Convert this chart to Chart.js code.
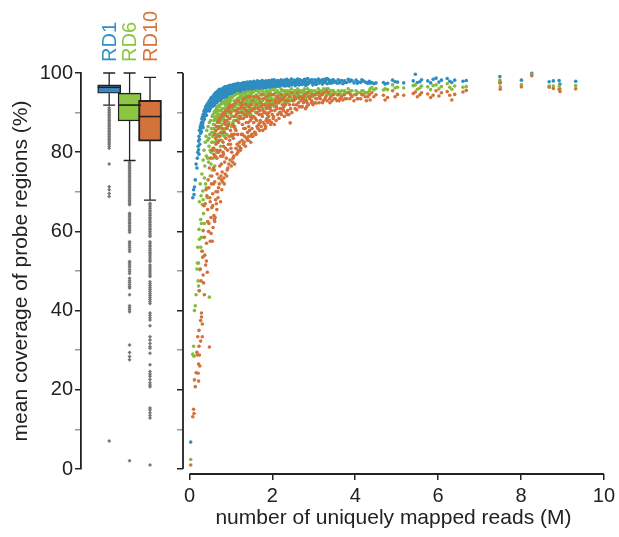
<!DOCTYPE html>
<html>
<head>
<meta charset="utf-8">
<script src="https://cdn.jsdelivr.net/npm/chart.js@4.4.1/dist/chart.umd.min.js"></script>
<style>
  html, body { margin: 0; padding: 0; background: #fff; }
  #wrap { position: relative; width: 619px; height: 537px; }
  #wrap canvas { position: absolute; left: 0; top: 0; }
</style>
</head>
<body>
<div id="wrap">
  <canvas id="scatter" width="619" height="537"></canvas>
  <canvas id="boxes" width="619" height="537"></canvas>
</div>
<script>
// ---- per-sample data: uniquely mapped reads (millions) and mean coverage (%) at each read-depth threshold ----
// rows line up across the four arrays (one entry per sample)
const readsM = [
  0.03, 0.08, 0.10, 0.11, 0.12, 0.14, 0.16, 0.18, 0.19, 0.20,
  0.21, 0.22, 0.22, 0.23, 0.24, 0.24, 0.25, 0.26, 0.27, 0.28,
  0.29, 0.29, 0.30, 0.31, 0.31, 0.32, 0.33, 0.34, 0.35, 0.36,
  0.37, 0.38, 0.39, 0.40, 0.41, 0.42, 0.43, 0.44, 0.45, 0.46,
  0.47, 0.48, 0.48, 0.49, 0.50, 0.51, 0.52, 0.53, 0.54, 0.55,
  0.23, 0.27, 0.33, 0.36, 0.41, 0.44, 0.47, 0.50, 0.52, 0.54,
  0.56, 0.57, 0.57, 0.58, 0.59, 0.60, 0.60, 0.61, 0.62, 0.63,
  0.63, 0.64, 0.65, 0.66, 0.66, 0.67, 0.68, 0.69, 0.70, 0.70,
  0.71, 0.72, 0.72, 0.73, 0.74, 0.75, 0.75, 0.76, 0.77, 0.78,
  0.79, 0.80, 0.80, 0.81, 0.82, 0.83, 0.83, 0.84, 0.85, 0.86,
  0.86, 0.87, 0.88, 0.89, 0.89, 0.90, 0.91, 0.92, 0.93, 0.93,
  0.94, 0.95, 0.96, 0.96, 0.97, 0.98, 0.99, 1.00, 1.00, 1.01,
  0.58, 0.62, 0.65, 0.69, 0.73, 0.77, 0.81, 0.85, 0.90, 0.97,
  0.55, 0.59, 0.64, 0.68, 0.71, 0.74, 0.79, 0.84, 0.88, 0.95,
  0.56, 0.61, 0.66, 0.70, 0.76, 0.82, 0.87, 0.92, 0.98, 1.02,
  0.60, 0.63, 0.67, 0.72, 0.78, 0.80, 0.86, 0.91, 0.94, 0.99,
  1.02, 1.03, 1.04, 1.05, 1.06, 1.06, 1.07, 1.08, 1.09, 1.10,
  1.11, 1.12, 1.13, 1.14, 1.15, 1.16, 1.17, 1.18, 1.19, 1.20,
  1.21, 1.22, 1.23, 1.24, 1.25, 1.26, 1.27, 1.28, 1.29, 1.30,
  1.31, 1.32, 1.33, 1.34, 1.35, 1.36, 1.37, 1.38, 1.39, 1.40,
  1.41, 1.42, 1.43, 1.44, 1.45, 1.46, 1.47, 1.48, 1.49, 1.50,
  1.03, 1.08, 1.13, 1.18, 1.23, 1.28, 1.33, 1.38, 1.43, 1.48,
  1.05, 1.10, 1.15, 1.20, 1.25, 1.30, 1.35, 1.40, 1.45, 1.50,
  1.07, 1.12, 1.17, 1.22, 1.27, 1.32, 1.37, 1.42, 1.47, 1.49,
  1.51, 1.52, 1.53, 1.54, 1.55, 1.56, 1.57, 1.58, 1.59, 1.60,
  1.61, 1.62, 1.63, 1.64, 1.65, 1.66, 1.67, 1.68, 1.69, 1.70,
  1.71, 1.72, 1.73, 1.74, 1.75, 1.76, 1.77, 1.78, 1.79, 1.80,
  1.81, 1.82, 1.83, 1.84, 1.85, 1.86, 1.87, 1.88, 1.89, 1.90,
  1.91, 1.92, 1.93, 1.94, 1.95, 1.96, 1.97, 1.98, 1.99, 2.00,
  1.53, 1.58, 1.63, 1.68, 1.73, 1.78, 1.83, 1.88, 1.93, 1.98,
  1.55, 1.62, 1.70, 1.77, 1.85, 1.92,
  2.01, 2.03, 2.04, 2.06, 2.07, 2.09, 2.10, 2.12, 2.13, 2.15,
  2.16, 2.18, 2.19, 2.21, 2.22, 2.24, 2.26, 2.27, 2.29, 2.30,
  2.32, 2.33, 2.35, 2.37, 2.38, 2.40, 2.41, 2.43, 2.44, 2.46,
  2.47, 2.49, 2.02, 2.08, 2.14, 2.20, 2.25, 2.31, 2.36, 2.42,
  2.05, 2.11, 2.17, 2.23, 2.28,
  2.51, 2.53, 2.55, 2.57, 2.59, 2.61, 2.63, 2.65, 2.67, 2.69,
  2.71, 2.73, 2.75, 2.78, 2.80, 2.82, 2.85, 2.87, 2.90, 2.92,
  2.94, 2.96, 2.98, 2.52, 2.58, 2.64, 2.72, 2.77, 2.84, 2.89,
  2.55, 2.66, 2.76, 2.83, 2.95,
  3.01, 3.03, 3.06, 3.08, 3.11, 3.13, 3.16, 3.19, 3.21, 3.24,
  3.27, 3.29, 3.32, 3.35, 3.38, 3.41, 3.44, 3.47, 3.49, 3.05,
  3.14, 3.23, 3.31, 3.39, 3.46,
  3.52, 3.56, 3.59, 3.63, 3.67, 3.70, 3.74, 3.79, 3.83, 3.87,
  3.92, 3.97, 4.02, 4.07, 4.13, 4.19, 4.24, 4.30, 4.34, 3.61,
  3.75, 3.89, 4.05, 4.16, 4.27,
  4.36, 4.40, 4.45, 4.50, 4.68, 4.72, 4.78, 4.90, 4.96, 5.02,
  5.17, 5.40, 5.45, 5.50, 5.56, 5.60, 5.75, 5.82, 5.88, 5.95,
  6.02, 6.08, 6.22, 6.28, 6.33, 6.40, 6.60, 6.68, 7.49, 7.50,
  8.01, 8.26, 8.68, 8.78, 8.92, 8.94, 9.32
];
const covRD1 = [
  6.8, 68.5, 70.5, 69.3, 71.2, 73.0, 77.0, 76.0, 78.5, 80.0,
  81.5, 82.8, 80.6, 84.0, 83.2, 85.5, 82.0, 86.4, 84.8, 87.0,
  85.2, 87.5, 88.4, 86.8, 88.9, 87.3, 89.5, 88.0, 90.3, 89.0,
  90.8, 89.6, 91.5, 90.2, 91.2, 92.0, 90.6, 91.8, 92.5, 91.0,
  92.3, 90.4, 93.0, 92.7, 91.6, 93.4, 92.1, 93.8, 92.9, 93.5,
  79.5, 86.0, 86.2, 88.4, 89.3, 90.5, 91.3, 90.9, 91.9, 92.4,
  92.8, 94.1, 91.7, 93.5, 92.2, 94.6, 93.3, 91.9, 94.0, 92.7,
  94.8, 93.1, 95.1, 92.5, 94.3, 93.8, 95.4, 92.9, 94.5, 93.6,
  95.6, 93.4, 94.9, 94.2, 95.8, 93.0, 94.6, 95.2, 93.9, 95.9,
  94.4, 96.1, 93.7, 95.3, 94.8, 96.3, 94.0, 95.6, 94.5, 96.0,
  94.2, 95.1, 96.4, 94.7, 95.7, 93.9, 96.2, 95.0, 94.4, 96.6,
  95.3, 94.6, 96.0, 95.5, 96.8, 94.9, 95.8, 96.5, 95.2, 94.7,
  93.9, 93.2, 94.0, 95.0, 95.5, 95.3, 95.9, 96.4, 96.6, 96.2,
  91.5, 94.3, 94.5, 93.5, 94.1, 94.9, 95.7, 93.8, 95.3, 96.1,
  93.0, 93.7, 95.0, 95.2, 94.3, 95.1, 95.9, 96.3, 96.9, 96.1,
  92.0, 95.0, 94.8, 95.9, 93.6, 95.0, 96.5, 94.3, 96.7, 95.6,
  95.4, 96.9, 94.8, 96.3, 95.7, 97.1, 95.1, 96.6, 94.6, 96.0,
  97.2, 95.5, 96.4, 95.0, 96.8, 95.9, 97.4, 95.3, 96.2, 96.9,
  95.6, 96.5, 97.3, 95.2, 96.0, 97.0, 95.8, 96.7, 97.5, 95.5,
  96.3, 97.6, 95.9, 96.9, 95.4, 97.3, 96.5, 95.7, 97.7, 96.1,
  97.0, 95.8, 96.6, 97.4, 96.0, 97.8, 96.4, 95.6, 97.1, 96.8,
  96.0, 95.2, 97.0, 96.6, 95.9, 96.1, 97.2, 96.9, 95.9, 97.5,
  94.9, 96.7, 95.6, 95.4, 97.2, 96.5, 96.2, 95.5, 97.2, 96.0,
  96.2, 96.0, 95.1, 97.0, 97.1, 95.7, 97.0, 96.4, 97.0, 95.9,
  96.3, 97.7, 95.9, 97.0, 96.6, 97.9, 96.1, 97.3, 96.8, 95.8,
  97.5, 96.5, 97.1, 98.0, 96.2, 97.4, 96.7, 97.8, 96.0, 97.2,
  96.6, 97.7, 96.3, 97.1, 98.1, 96.9, 97.5, 96.4, 97.9, 97.0,
  96.5, 97.6, 97.2, 96.2, 98.0, 97.3, 96.7, 97.8, 96.4, 97.5,
  96.9, 98.1, 96.6, 97.4, 97.9, 96.3, 97.6, 97.1, 98.2, 96.8,
  97.2, 96.0, 96.4, 97.0, 97.6, 97.2, 96.5, 97.0, 97.7, 96.5,
  96.9, 97.3, 96.8, 96.1, 96.6, 97.3,
  97.6, 96.8, 98.3, 97.2, 97.9, 96.5, 97.5, 98.1, 96.9, 97.7,
  96.6, 97.8, 97.3, 98.3, 96.9, 97.6, 98.0, 97.1, 96.7, 98.2,
  97.4, 96.8, 98.4, 97.0, 97.8, 96.7, 98.1, 97.5, 97.2, 98.5,
  97.0, 97.7, 97.0, 97.6, 98.0, 96.9, 97.5, 97.9, 96.9, 97.3,
  96.4, 97.3, 97.0, 97.9, 97.4,
  97.4, 98.2, 96.8, 97.9, 97.1, 98.5, 97.6, 97.0, 98.3, 97.7,
  97.2, 98.0, 97.5, 98.4, 96.9, 97.8, 98.6, 97.3, 97.9, 98.2,
  97.6, 98.3, 97.0, 97.9, 97.3, 98.1, 97.1, 97.7, 97.4, 98.0,
  98.0, 97.4, 98.2, 97.0, 97.8,
  97.5, 98.3, 97.1, 98.0, 98.5, 97.4, 97.9, 98.2, 97.2, 98.4,
  97.7, 98.1, 97.3, 98.4, 97.8, 98.0, 97.5, 98.2, 97.7, 97.8,
  98.0, 97.6, 98.6, 97.4, 98.3,
  97.9, 97.4, 98.3, 97.7, 98.1, 97.3, 98.0, 97.6, 98.4, 97.8,
  98.1, 97.5, 98.2, 97.8, 97.6, 98.0, 97.7, 97.4, 97.9, 97.5,
  97.6, 98.2, 97.4, 98.3, 97.6,
  97.4, 97.6, 97.3, 97.5, 97.6, 97.2, 97.4, 98.2, 97.8, 97.7,
  97.5, 98.0, 99.7, 97.6, 97.8, 98.3, 98.0, 97.5, 98.4, 98.7,
  97.7, 98.2, 98.6, 97.9, 97.6, 98.2, 97.9, 98.1, 99.1, 97.6,
  98.2, 99.9, 97.8, 98.0, 98.1, 97.2, 97.9
];
const covRD6 = [
  2.4, 29.0, 31.0, 28.5, 40.0, 41.2, 44.0, 50.5, 52.0, 56.0,
  47.5, 52.0, 46.2, 60.5, 58.0, 67.5, 50.3, 72.0, 63.0, 69.0,
  58.5, 62.0, 74.5, 55.0, 66.8, 70.2, 78.0, 64.5, 80.5, 62.0,
  76.5, 82.5, 72.0, 84.0, 79.0, 85.5, 68.5, 83.0, 86.5, 77.5,
  81.5, 43.4, 87.5, 84.5, 74.0, 88.0, 80.0, 86.0, 82.5, 89.0,
  45.0, 56.0, 68.0, 73.5, 71.0, 78.5, 83.5, 80.5, 77.0, 85.0,
  84.0, 89.5, 78.5, 86.0, 81.0, 90.2, 87.0, 76.5, 88.5, 82.5,
  90.5, 85.5, 91.0, 80.0, 88.0, 86.5, 91.5, 82.5, 89.0, 84.5,
  91.8, 84.0, 89.5, 87.5, 92.0, 81.5, 88.5, 90.5, 85.0, 92.3,
  87.0, 92.5, 84.5, 90.0, 88.5, 92.8, 85.5, 91.0, 87.5, 92.0,
  86.0, 89.5, 93.0, 88.0, 91.5, 84.5, 92.5, 89.0, 87.0, 93.2,
  90.0, 87.5, 92.5, 91.0, 93.5, 88.5, 91.5, 93.0, 89.5, 86.5,
  87.0, 79.0, 83.0, 89.5, 90.5, 88.0, 89.5, 92.5, 93.0, 90.5,
  75.5, 88.0, 89.0, 84.5, 86.0, 89.5, 91.0, 84.0, 90.0, 92.0,
  82.5, 85.0, 90.0, 90.5, 86.5, 89.0, 92.0, 92.5, 94.0, 91.0,
  80.5, 90.0, 88.5, 91.5, 83.0, 88.5, 93.0, 86.0, 93.0, 90.0,
  89.0, 93.8, 87.0, 92.0, 90.5, 94.2, 88.0, 93.0, 86.5, 91.5,
  94.5, 89.0, 92.5, 88.0, 93.5, 91.0, 94.8, 88.5, 92.0, 93.8,
  90.0, 92.5, 94.5, 88.5, 91.0, 93.5, 90.5, 92.0, 95.0, 89.5,
  92.0, 95.0, 91.0, 93.5, 89.0, 94.5, 92.5, 90.5, 95.2, 91.5,
  93.5, 90.0, 92.0, 94.5, 91.0, 95.3, 92.5, 89.5, 94.0, 93.0,
  91.0, 90.5, 93.0, 93.0, 89.0, 91.5, 94.0, 93.0, 90.5, 94.5,
  87.5, 93.0, 90.0, 89.0, 94.0, 92.5, 92.0, 89.5, 93.5, 91.0,
  91.5, 92.0, 88.0, 93.5, 94.5, 90.0, 93.5, 92.5, 93.0, 90.5,
  92.0, 95.0, 90.5, 93.5, 92.5, 95.4, 91.0, 94.0, 93.0, 90.0,
  94.5, 92.5, 93.5, 95.5, 91.5, 94.0, 92.0, 95.0, 90.5, 93.5,
  92.5, 94.5, 91.5, 93.0, 95.5, 93.0, 94.5, 92.0, 95.0, 93.5,
  92.0, 94.5, 93.5, 91.5, 95.5, 94.0, 92.5, 95.0, 92.0, 94.5,
  93.0, 95.5, 92.5, 94.0, 95.0, 91.5, 94.5, 93.5, 95.8, 93.0,
  94.0, 91.5, 91.5, 93.0, 94.5, 93.5, 92.0, 93.5, 94.5, 92.0,
  92.5, 93.5, 92.5, 91.0, 92.5, 94.0,
  94.5, 93.0, 95.8, 93.5, 95.0, 92.0, 94.0, 95.5, 93.0, 94.5,
  92.5, 95.0, 94.0, 96.0, 93.0, 94.5, 95.5, 93.5, 92.5, 95.5,
  94.5, 93.0, 95.5, 93.5, 95.0, 93.0, 95.5, 93.0, 94.0, 96.0,
  93.5, 95.0, 92.5, 95.0, 95.0, 93.0, 94.0, 95.0, 92.5, 94.5,
  91.5, 94.0, 93.5, 95.5, 94.0,
  94.5, 95.5, 93.5, 95.0, 94.0, 96.0, 94.5, 93.5, 95.5, 95.0,
  94.0, 95.5, 94.5, 96.0, 93.5, 95.0, 96.0, 94.0, 95.0, 95.5,
  94.5, 95.5, 94.0, 95.0, 94.5, 95.5, 94.0, 95.0, 94.5, 95.5,
  95.5, 94.0, 95.5, 94.0, 95.0,
  94.5, 95.5, 94.5, 95.0, 96.0, 94.5, 95.0, 95.5, 94.5, 96.0,
  95.0, 95.5, 94.5, 96.0, 95.0, 95.5, 94.5, 95.5, 95.0, 95.0,
  95.5, 95.0, 96.0, 94.5, 95.5,
  95.0, 94.5, 95.5, 95.0, 95.5, 94.5, 95.5, 95.0, 96.0, 95.0,
  95.5, 94.5, 95.5, 95.0, 95.0, 95.5, 95.0, 95.0, 95.5, 94.5,
  95.0, 95.5, 95.0, 95.5, 95.0,
  96.0, 96.3, 95.7, 96.1, 95.7, 96.0, 95.8, 97.0, 96.2, 96.4,
  96.2, 96.8, 97.0, 95.9, 96.2, 96.7, 96.5, 95.8, 96.8, 97.0,
  96.0, 96.6, 97.3, 96.4, 95.9, 96.7, 96.4, 96.6, 98.2, 96.5,
  97.1, 99.7, 96.7, 96.7, 96.7, 96.0, 96.8
];
const covRD10 = [
  1.0, 13.2, 15.1, 14.0, 22.5, 20.8, 24.3, 29.5, 28.8, 33.4,
  24.2, 22.2, 26.5, 35.0, 28.8, 45.0, 26.0, 50.5, 32.3, 47.5,
  39.4, 38.4, 55.0, 33.4, 36.6, 53.5, 60.2, 47.0, 66.5, 44.0,
  54.0, 67.0, 51.5, 70.5, 57.0, 69.0, 49.7, 65.5, 73.0, 60.0,
  62.0, 30.8, 76.0, 68.5, 57.5, 78.5, 63.5, 72.0, 66.0, 80.5,
  31.0, 37.5, 49.0, 58.5, 52.5, 62.5, 71.0, 67.5, 59.5, 74.0,
  66.5, 81.0, 61.0, 72.0, 64.0, 84.5, 75.5, 62.5, 79.0, 68.0,
  85.5, 70.0, 86.5, 65.5, 78.5, 74.5, 87.5, 68.5, 80.0, 71.0,
  88.0, 72.0, 83.0, 76.5, 88.5, 67.5, 79.0, 85.0, 73.0, 89.0,
  75.0, 89.5, 72.5, 82.5, 79.5, 90.0, 73.5, 85.0, 77.5, 88.0,
  74.5, 81.0, 90.5, 78.5, 86.0, 74.0, 89.0, 80.5, 76.0, 91.0,
  82.0, 77.0, 88.5, 84.0, 91.5, 78.0, 85.5, 90.0, 81.0, 76.5,
  76.0, 63.5, 67.0, 82.5, 84.0, 77.0, 80.0, 87.5, 88.0, 83.0,
  57.5, 79.5, 82.0, 70.0, 73.5, 80.5, 86.0, 72.0, 83.5, 87.0,
  69.5, 72.5, 84.0, 86.0, 74.0, 81.5, 87.0, 86.5, 92.0, 84.5,
  63.0, 83.5, 80.5, 86.5, 70.5, 79.0, 89.5, 75.5, 90.5, 82.0,
  80.0, 91.5, 77.5, 87.0, 83.5, 92.0, 79.0, 89.0, 77.0, 86.0,
  92.5, 81.0, 88.0, 79.5, 90.5, 84.5, 93.0, 80.5, 87.5, 91.0,
  82.5, 88.5, 92.5, 81.0, 84.5, 90.0, 83.0, 87.0, 93.0, 82.0,
  86.0, 93.5, 84.0, 89.5, 81.5, 92.0, 87.5, 83.5, 94.0, 85.0,
  90.0, 83.0, 86.5, 91.5, 85.5, 94.0, 88.0, 82.5, 90.5, 88.5,
  84.0, 84.5, 89.5, 90.0, 80.5, 84.5, 91.0, 89.0, 84.0, 92.0,
  78.5, 90.5, 82.0, 81.5, 91.5, 88.5, 86.0, 83.0, 90.0, 84.5,
  86.5, 85.5, 80.0, 89.0, 92.0, 82.5, 90.5, 87.5, 89.0, 84.0,
  86.0, 93.0, 84.0, 89.0, 87.5, 94.0, 85.0, 91.0, 88.5, 84.5,
  92.0, 88.0, 90.0, 94.0, 86.0, 91.0, 87.0, 93.5, 85.5, 90.5,
  88.0, 92.5, 86.5, 89.5, 94.5, 89.0, 92.0, 87.5, 93.5, 90.0,
  87.0, 92.0, 90.0, 86.5, 94.0, 91.0, 88.5, 93.0, 87.5, 91.5,
  89.0, 94.5, 88.0, 91.0, 93.0, 87.0, 92.0, 90.5, 94.5, 89.5,
  91.0, 85.0, 86.5, 89.5, 91.5, 90.5, 86.0, 89.5, 92.0, 87.5,
  89.0, 90.0, 87.5, 85.5, 88.0, 90.0,
  92.0, 89.0, 94.5, 90.5, 93.0, 88.0, 91.5, 94.0, 89.5, 92.5,
  88.5, 93.0, 91.0, 94.5, 89.5, 92.0, 93.5, 90.5, 89.0, 94.0,
  92.0, 90.0, 94.5, 90.5, 93.0, 89.5, 94.0, 87.4, 91.0, 95.0,
  90.0, 93.0, 88.5, 92.5, 93.5, 90.0, 91.0, 93.0, 89.5, 92.0,
  87.0, 91.0, 90.0, 93.5, 91.5,
  92.0, 94.0, 91.0, 93.5, 90.7, 95.0, 92.5, 91.5, 94.0, 93.0,
  91.5, 93.5, 92.5, 94.5, 91.0, 93.0, 95.0, 92.0, 93.5, 94.0,
  92.5, 94.5, 92.0, 93.0, 92.0, 94.0, 91.5, 93.0, 92.5, 94.0,
  93.5, 91.5, 94.0, 91.5, 93.0,
  92.5, 94.5, 92.4, 93.5, 95.0, 92.5, 93.5, 94.5, 92.5, 95.0,
  93.5, 94.0, 93.0, 95.0, 93.5, 94.0, 93.0, 94.5, 93.5, 93.5,
  94.0, 93.0, 95.5, 92.5, 94.5,
  93.5, 93.0, 94.5, 93.5, 94.0, 93.2, 94.5, 93.5, 95.0, 93.5,
  94.0, 93.0, 94.5, 93.5, 93.5, 94.5, 94.0, 94.0, 94.5, 93.0,
  93.5, 94.5, 93.5, 94.5, 93.0,
  93.2, 95.0, 94.0, 94.5, 94.4, 93.2, 93.8, 95.5, 94.0, 94.6,
  94.4, 94.8, 95.2, 94.0, 94.5, 95.0, 94.7, 93.8, 94.4, 95.5,
  94.2, 95.0, 95.3, 94.4, 93.2, 94.6, 95.2, 95.6, 97.5, 95.9,
  96.5, 99.3, 96.4, 96.1, 95.9, 95.3, 96.0
];

// ---- box-plot summaries per read-depth threshold ----
const boxLabels = ['RD1', 'RD6', 'RD10'];
const boxLow    = [91.9, 77.9, 67.9];
const boxQ1     = [94.9, 87.9, 82.8];
const boxMedian = [96.4, 91.9, 89.0];
const boxQ3     = [97.0, 94.9, 93.1];
const boxHigh   = [100.0, 100.0, 98.9];
const outliersRD1 = [
  91.2, 90.8, 90.4, 90.0, 89.6, 89.2, 88.8, 88.4, 88.0, 87.6, 87.2, 86.8, 86.4, 86.0,
  85.6, 85.2, 84.8, 84.4, 84.0, 83.6, 83.2, 82.8, 82.4, 82.0, 81.5, 81.0,
  77.0, 71.3, 70.5, 69.6, 68.8, 7.1
];
const outliersRD6 = [
  77.4, 77.0, 76.6, 76.2, 75.8, 75.4, 75.0, 74.6, 74.2, 73.8, 73.4, 73.0, 72.6, 72.2,
  71.8, 71.4, 71.0, 70.6, 70.2, 69.8, 69.4, 69.0, 68.6, 68.2, 67.8, 67.4, 67.0, 66.7,
  64.6, 64.2, 63.8, 63.3, 62.9, 62.4, 62.0, 61.5, 61.1, 60.6, 60.2, 59.8,
  57.4, 57.0, 56.5, 56.0, 55.4, 54.9, 52.4, 52.0, 51.5, 51.0, 50.4, 49.9, 49.4,
  48.2, 47.6, 47.1, 46.5, 46.0, 45.7, 44.0, 41.2, 40.7, 40.2, 39.7,
  31.3, 29.4, 28.4, 27.6, 2.1
];
const outliersRD10 = [
  67.1, 66.7, 66.2, 65.8, 65.3, 64.9, 64.4, 64.0, 63.5, 63.1, 62.6, 62.2, 61.7, 61.3,
  60.8, 60.4, 59.9, 59.5, 59.0, 58.7, 57.4, 57.0, 56.5, 56.1, 55.6, 55.2, 54.7, 54.3,
  53.8, 53.3, 52.8, 52.4, 51.5, 51.0, 50.5, 50.0, 49.5, 49.0, 48.6, 47.3, 46.8, 46.3,
  45.8, 45.3, 44.8, 44.3, 43.8, 43.3, 42.8, 42.3, 41.8, 39.4, 38.8, 38.2, 37.6, 36.2,
  33.4, 32.6, 31.7, 30.9, 30.5, 29.2, 26.3, 24.6, 24.0, 23.4, 22.6, 21.8, 21.2, 20.8,
  15.4, 14.9, 14.2, 13.5, 12.9, 1.0
];
const yTickValues = [0, 10, 20, 30, 40, 50, 60, 70, 80, 90, 100];
const xTickValues = [0, 2, 4, 6, 8, 10];

// ---- look ----
const FONT = "'Liberation Sans', Arial, Helvetica, sans-serif";
const INK = '#222222';
const MINOR = '#9a9a9a';
const seriesColors = ['#2f8dbf', '#84bb3c', '#d4713a'];
const boxFills = ['#3d86c1', '#8cc53f', '#d3733b'];
const labelColors = ['#3192c2', '#8cc63f', '#d7743a'];
const outlierColor = '#777777';

const tickColorFn = ctx => (ctx.tick && ctx.tick.value % 20 === 0) ? INK : MINOR;
const setYTicks = s => { s.ticks = yTickValues.map(v => ({ value: v })); };

// ---------- scatter panel ----------
const scatterAxes = {
  id: 'scatterAxes',
  afterDraw(chart) {
    const { ctx, chartArea, scales: { x, y } } = chart;
    ctx.save();
    ctx.strokeStyle = INK;
    ctx.lineWidth = 1.8;
    ctx.beginPath();
    ctx.moveTo(chartArea.left, y.getPixelForValue(0));
    ctx.lineTo(chartArea.left, y.getPixelForValue(100));
    ctx.moveTo(x.getPixelForValue(0), chartArea.bottom);
    ctx.lineTo(x.getPixelForValue(10), chartArea.bottom);
    ctx.stroke();
    ctx.restore();
  }
};

const toPoints = ys => readsM.map((r, i) => ({ x: r, y: ys[i] }));
const scatterSets = [covRD1, covRD6, covRD10].map((ys, i) => ({
  label: boxLabels[i],
  data: toPoints(ys),
  backgroundColor: seriesColors[i],
  borderWidth: 0,
  pointRadius: 1.8,
  pointHoverRadius: 1.8,
  order: 3 - i,
  clip: false
}));

new Chart(document.getElementById('scatter'), {
  type: 'scatter',
  data: { datasets: scatterSets },
  options: {
    responsive: false,
    animation: false,
    events: [],
    layout: { padding: { top: 73, right: 14, bottom: 0, left: 0 } },
    plugins: { legend: { display: false }, tooltip: { enabled: false } },
    scales: {
      x: {
        type: 'linear',
        min: -0.156,
        max: 10,
        afterBuildTicks: s => { s.ticks = xTickValues.map(v => ({ value: v })); },
        afterFit: s => { s.height = 63; },
        ticks: { autoSkip: false, maxRotation: 0, padding: 4, color: INK, font: { family: FONT, size: 20 } },
        grid: { drawOnChartArea: false, drawTicks: true, tickLength: 6, tickColor: INK, tickWidth: 1.5, lineWidth: 1.5 },
        border: { display: false },
        title: {
          display: true, text: 'number of uniquely mapped reads (M)', color: INK,
          font: { family: FONT, size: 21 }, padding: { top: 0, bottom: 6 }
        }
      },
      y: {
        type: 'linear',
        min: -1.26,
        max: 100,
        afterBuildTicks: setYTicks,
        afterFit: s => { s.width = 183; },
        ticks: { display: false },
        grid: { drawOnChartArea: false, drawTicks: true, tickLength: 6, tickColor: tickColorFn, tickWidth: 1.5, lineWidth: 1.5 },
        border: { display: false }
      }
    }
  },
  plugins: [scatterAxes]
});

// ---------- box-plot panel ----------
const boxDecor = {
  id: 'boxDecor',
  afterDatasetsDraw(chart) {
    const { ctx, scales: { x, y } } = chart;
    const halfBox = 11.5, halfCap = 6;
    ctx.save();
    ctx.strokeStyle = INK;
    boxLabels.forEach((name, i) => {
      const cx = x.getPixelForValue(i + 1);
      const yLow = y.getPixelForValue(boxLow[i]);
      const yHigh = y.getPixelForValue(boxHigh[i]);
      const yQ1 = y.getPixelForValue(boxQ1[i]);
      const yQ3 = y.getPixelForValue(boxQ3[i]);
      const yMed = y.getPixelForValue(boxMedian[i]);
      // whiskers and caps
      ctx.lineWidth = 1.3;
      ctx.beginPath();
      ctx.moveTo(cx, yQ3); ctx.lineTo(cx, yHigh);
      ctx.moveTo(cx, yQ1); ctx.lineTo(cx, yLow);
      ctx.moveTo(cx - halfCap, yHigh); ctx.lineTo(cx + halfCap, yHigh);
      ctx.moveTo(cx - halfCap, yLow); ctx.lineTo(cx + halfCap, yLow);
      ctx.stroke();
      // median
      ctx.lineWidth = 1.6;
      ctx.beginPath();
      ctx.moveTo(cx - halfBox, yMed); ctx.lineTo(cx + halfBox, yMed);
      ctx.stroke();
      // series name, rotated above the panel
      ctx.save();
      ctx.translate(cx, y.getPixelForValue(100) - 11);
      ctx.rotate(-Math.PI / 2);
      ctx.fillStyle = labelColors[i];
      ctx.font = `20px ${FONT}`;
      ctx.textAlign = 'left';
      ctx.textBaseline = 'middle';
      ctx.fillText(name, 0, 1);
      ctx.restore();
    });
    ctx.restore();
  }
};

const outlierSets = [outliersRD1, outliersRD6, outliersRD10].map((vals, i) => ({
  type: 'scatter',
  data: vals.map(v => ({ x: i + 1, y: v })),
  backgroundColor: outlierColor,
  borderWidth: 0,
  pointStyle: 'rectRot',
  pointRadius: 2,
  pointHoverRadius: 2,
  clip: false
}));

new Chart(document.getElementById('boxes'), {
  type: 'bar',
  data: {
    datasets: [
      {
        type: 'bar',
        data: boxLabels.map((_, i) => ({ x: i + 1, y: [boxQ1[i], boxQ3[i]] })),
        backgroundColor: boxFills,
        borderColor: INK,
        borderWidth: [1.4, 1.4, 2.0],
        borderSkipped: false,
        barThickness: 23,
        grouped: false
      },
      ...outlierSets
    ]
  },
  options: {
    responsive: false,
    animation: false,
    events: [],
    layout: { padding: { top: 73, right: 440, bottom: 68, left: 0 } },
    plugins: { legend: { display: false }, tooltip: { enabled: false } },
    scales: {
      x: { type: 'linear', min: 0.42, max: 3.62, display: false },
      y: {
        type: 'linear',
        min: 0,
        max: 100,
        afterBuildTicks: setYTicks,
        afterFit: s => { s.width = 81; },
        ticks: {
          color: INK, padding: 2, font: { family: FONT, size: 20 },
          callback: v => (v % 20 === 0 ? String(v) : '')
        },
        grid: { drawOnChartArea: false, drawTicks: true, tickLength: 6, tickColor: tickColorFn, tickWidth: 1.5, lineWidth: 1.5 },
        border: { display: true, color: INK, width: 1.8 },
        title: {
          display: true, text: 'mean coverage of probe regions (%)', color: INK,
          font: { family: FONT, size: 21 }, padding: { top: 9, bottom: 0 }
        }
      }
    }
  },
  plugins: [boxDecor]
});
</script>
</body>
</html>
